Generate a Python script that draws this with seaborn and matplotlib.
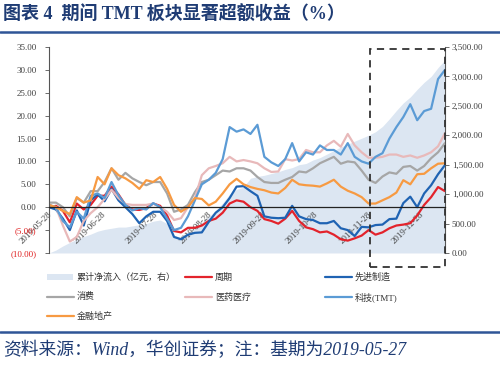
import numpy as np
import pandas as pd
import matplotlib
matplotlib.use("Agg")
import matplotlib.pyplot as plt
import matplotlib.dates as mdates
import matplotlib.transforms as mtransforms
from matplotlib.patches import Rectangle
from matplotlib.lines import Line2D
import seaborn as sns

# ---- data (one point every 4 days) ----
dates = pd.date_range("2019-05-27", "2020-01-10", freq="4D")

cycle = [0, 0.3, -0.8, -3.3, 0.8, -0.5, 0.5, 2.5, 2.5, 4.5,
         2.8, 0.5, -0.5, -0.6, -0.2, 0.8, 0.3, -1.8, -5.2, -5.5,
         -4.5, -4.5, -4, -3, -2.5, -1.2, 0.8, 1.5, 1.2, 0,
         -0.8, -2.6, -3, -3.6, -2.5, -0.8, -3, -4.4, -4.8, -5.5,
         -5.3, -6, -7, -7.3, -6.8, -6.2, -5, -6, -5.5, -4.6,
         -4, -3.8, -3.5, -1.8, 0.5, 2.2, 4.4, 3.5]
manufacturing = [0, -0.5, -2.5, -5, -0.7, -4, 1.5, 2.8, 1.3, 4,
                 1.5, 0, -1.5, -3.5, -2, -1, -1, -3, -6.5, -7,
                 -6, -5.6, -5.5, -3.2, -1.2, 0, 2, 4.5, 4.6, 3.5,
                 2.5, -2, -2.3, -2.4, -2.3, 0.3, -2, -2.6, -2.8, -3.5,
                 -3.5, -3, -4.6, -5, -6.3, -4.3, -4.4, -3.9, -3.8, -2.6,
                 -2.5, 0.9, 2.3, 0, 3, 4.8, 7.2, 9.2]
consumer = [1, 1, 0, -2, 2, 1, 3.5, 3.5, 5.5, 8.5,
            6, 7.5, 6.3, 5.5, 4.8, 5.5, 5.5, 3, -1, -0.5,
            0.5, 3.3, 5.5, 6, 7, 8, 7.8, 8.5, 8.5, 8,
            6.6, 5.5, 5.3, 5.3, 6, 6.6, 7.8, 7.6, 8.5, 9.6,
            10.3, 11, 9.5, 10, 9.8, 8, 6, 5.3, 6.7, 7.6,
            7.3, 8.8, 9, 8, 9, 10.7, 12, 14]
medical = [0.5, 0, -4, -7.5, -6.5, -3, -1.3, 0, 1.8, 3.8,
           2, 0.7, 0.5, 0.5, 0.5, 0.8, 0, -1, -2.8, -2.4,
           0, 2, 7, 8.5, 9, 9.6, 11, 10, 10.3, 10,
           9.6, 8.5, 7.7, 7.8, 10.5, 10.2, 10.5, 12.5, 12, 12,
           13.5, 14.5, 13.2, 16, 13.5, 12, 10.8, 10.8, 11, 11.5,
           11.5, 11, 11.3, 10.8, 11.3, 12, 13.3, 16.2]
tmt = [0.5, 0, -3, -4.4, -1, -2.5, 2.5, 3, 2, 5.5,
       2.6, 0.5, -0.7, -0.2, -0.5, 0.9, 0, -2.5, -5, -4.5,
       -2, 1.5, 5, 6, 7.5, 10.5, 17.5, 16.5, 17, 16,
       18, 11, 9.8, 9, 10.5, 14, 10, 12, 11.5, 13.5,
       12.5, 12.5, 11.5, 14, 11, 10, 9.5, 11, 11.8, 15,
       17.5, 19.7, 22.5, 19, 21, 21.5, 28, 30]
finance = [0.5, 0, -0.8, -1.5, 2.2, 1, 1.5, 6.6, 5, 8.5,
           7, 6.3, 5.3, 4, 5.9, 5.5, 6.6, 4, 0.5, -1,
           0, 2, 1.8, 0.4, 1.2, 3, 5, 6.2, 5, 4.4,
           4, 3.7, 3.2, 3, 4.2, 6, 5, 4.8, 4.7, 4.5,
           5.2, 6, 4.5, 3.6, 3, 2.2, 0.8, 0.8, 1.5, 2.2,
           3.2, 5.9, 5, 7.2, 7.3, 8.5, 9.5, 9.6]
inflow = [0, 50, 120, 180, 230, 280, 320, 370, 400, 420,
          440, 440, 460, 480, 500, 540, 560, 500, 300, 260,
          330, 420, 520, 620, 720, 850, 1000, 1080, 1120, 1270,
          1300, 1320, 1350, 1380, 1420, 1450, 1500, 1520, 1580, 1620,
          1680, 1740, 1800, 1850, 1900, 1950, 2000, 2060, 2150, 2280,
          2420, 2550, 2650, 2780, 2900, 3000, 3150, 3280]

tick_dates = ["2019-05-28", "2019-06-28", "2019-07-28", "2019-08-28",
              "2019-09-28", "2019-10-28", "2019-11-28", "2019-12-28"]
left_ticks = [-10, -5, 0, 5, 10, 15, 20, 25, 30, 35]
right_ticks = [0, 500, 1000, 1500, 2000, 2500, 3000, 3500]

series = [
    ("周期", cycle, "#e3232c"),
    ("先进制造", manufacturing, "#1f63b3"),
    ("消费", consumer, "#a6a6a6"),
    ("医药医疗", medical, "#e8b9ba"),
    ("科技(TMT)", tmt, "#5b9bd5"),
    ("金融地产", finance, "#f79a42"),
]
area_color = "#dce6f2"
area_label = "累计净流入（亿元，右）"

sns.set_style("white")
plt.rcParams["font.family"] = ["Liberation Serif", "Noto Sans CJK SC"]
plt.rcParams["axes.unicode_minus"] = False

fig = plt.figure(figsize=(5, 3.71), dpi=100)
ax = fig.add_axes([0.098, 0.3181, 0.792, 0.5553])
ax2 = ax.twinx()

# area on the right axis, behind the lines
ax2.fill_between(dates, 0, inflow, color=area_color, lw=0)
ax2.set_ylim(0, 3500)
ax.set_zorder(ax2.get_zorder() + 1)
ax.patch.set_visible(False)

for name, vals, color in series:
    sns.lineplot(x=dates, y=vals, ax=ax, color=color, lw=1.6, legend=False)

ax.set_xlim(dates[0], dates[-1])
ax.set_ylim(-10, 35)

# axes styling
ax.spines["top"].set_visible(False)
ax.spines["right"].set_visible(False)
ax.spines["bottom"].set_position(("data", 0))
ax.spines["bottom"].set_color("#222222")
ax.spines["bottom"].set_linewidth(0.9)
ax.spines["left"].set_color("#555555")
ax.spines["left"].set_linewidth(0.8)
for s in ["top", "left", "bottom"]:
    ax2.spines[s].set_visible(False)
ax2.spines["right"].set_color("#555555")
ax2.spines["right"].set_linewidth(0.8)

ax.set_xlabel("")
ax.set_ylabel("")

ax.set_yticks(left_ticks)
ax.set_yticklabels([f"({abs(v):.2f})" if v < 0 else f"{v:.2f}" for v in left_ticks])
for lab, v in zip(ax.get_yticklabels(), left_ticks):
    lab.set_color("#e02020" if v < 0 else "#404040")
ax.tick_params(axis="y", direction="out", length=3, width=0.6, labelsize=6.5, pad=6, color="#555555")

ax2.set_yticks(right_ticks)
ax2.set_yticklabels([f"{v:,.2f}" for v in right_ticks])
ax2.tick_params(axis="y", direction="out", length=3, width=0.6, labelsize=6.5, pad=2,
                color="#555555", labelcolor="#404040")

ax.set_xticks(pd.to_datetime(tick_dates))
ax.set_xticklabels(tick_dates, rotation=45, ha="right", va="center",
                   rotation_mode="anchor", fontsize=6.5, color="#404040")
ax.tick_params(axis="x", direction="out", length=2.5, width=0.6, pad=2, color="#222222")

# dashed highlight box over the last period
blend = mtransforms.blended_transform_factory(ax.transData, ax.transAxes)
x0 = mdates.date2num(pd.Timestamp("2019-11-28"))
x1 = mdates.date2num(dates[-1])
ax.add_patch(Rectangle((x0, -0.068), x1 - x0, 1.058, transform=blend, fill=False,
                       ls=(0, (4, 3)), lw=1.3, ec="#333333", clip_on=False, zorder=5))

# legend, laid out by hand in three columns
px = lambda x: x / 500
py = lambda y: 1 - y / 371
legend_items = [(area_label, area_color)] + [(name, color) for name, _, color in series]
col_x = [47, 185, 325]
row_y = [277, 297, 316]
for i, (label, color) in enumerate(legend_items):
    col, row = i % 3, i // 3
    xs, y = col_x[col], row_y[row]
    if i == 0:
        fig.add_artist(Rectangle((px(xs), py(y + 3)), px(26), 6 / 371, color=color,
                                 transform=fig.transFigure, lw=0))
    else:
        fig.add_artist(Line2D([px(xs), px(xs + 27)], [py(y), py(y)], color=color, lw=1.6,
                              transform=fig.transFigure))
    fig.text(px(xs + 30), py(y), label, fontsize=6.5, va="center", ha="left", color="#333333")

# title, rules and source note
fig.text(0.006, py(15), "图表 4  期间 TMT 板块显著超额收益（%）", fontsize=13,
         fontweight="bold", color="#1f3c74", va="center", ha="left")
fig.add_artist(Line2D([0, 1], [py(32), py(32)], color="#2f5597", lw=1.8, transform=fig.transFigure))
fig.add_artist(Line2D([0, 1], [py(332), py(332)], color="#2f5597", lw=1.8, transform=fig.transFigure))
fig.text(0.006, py(350), "资料来源：Wind，华创证券；注：基期为2019-05-27", fontsize=12.8,
         style="italic", color="#1f3c74", va="center", ha="left")

fig.savefig("out.png", dpi=100)
